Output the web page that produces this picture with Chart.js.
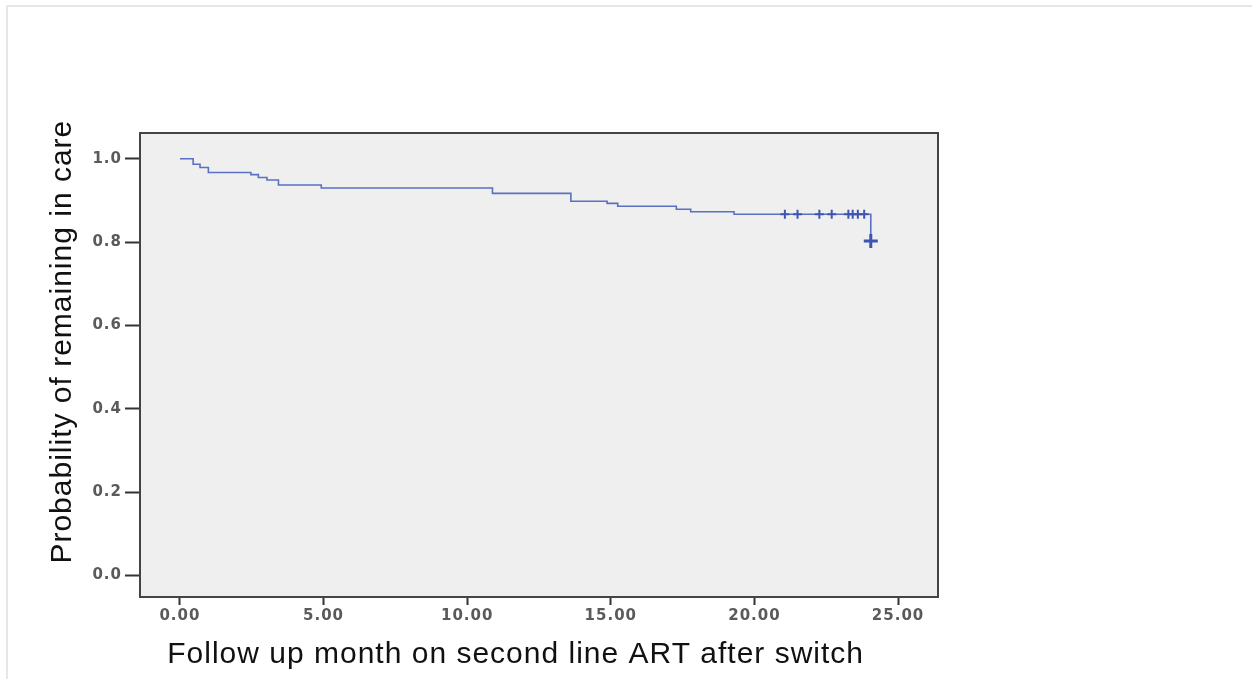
<!DOCTYPE html>
<html>
<head>
<meta charset="utf-8">
<script src="https://cdn.jsdelivr.net/npm/chart.js@4.4.1/dist/chart.umd.min.js"></script>
<style>
  html, body { margin: 0; padding: 0; background: #ffffff; }
  #wrap { position: relative; width: 1252px; height: 679px; }
  #frame { position: absolute; left: 6px; top: 5px; right: 0; bottom: 0;
           border-top: 2px solid #e6e6e6; border-left: 2px solid #e6e6e6; pointer-events: none; }
  canvas { position: absolute; left: 0; top: 0; }
</style>
</head>
<body>
<div id="wrap">
  <canvas id="c" width="1252" height="679"></canvas>
  <div id="frame"></div>
</div>
<script>
// Kaplan-Meier step curve (time in months, survival probability)
const eventTimes = [0, 0.46, 0.70, 0.99, 2.47, 2.73, 3.03, 3.43, 4.92, 10.88, 13.61, 14.87, 15.24, 17.28, 17.78, 19.29, 24.05];
const survivalProb = [1.0, 0.987, 0.979, 0.967, 0.962, 0.955, 0.949, 0.937, 0.930, 0.917, 0.898, 0.893, 0.886, 0.879, 0.873, 0.867, 0.803];
// Censored observations
const censorTimes = [21.06, 21.50, 22.26, 22.69, 23.27, 23.42, 23.60, 23.82];
const censorProb = [0.867, 0.867, 0.867, 0.867, 0.867, 0.867, 0.867, 0.867];
const finalCensorTimes = [24.05];
const finalCensorProb = [0.803];
// Axis ticks
const xTicks = [0, 5, 10, 15, 20, 25];
const yTicks = [0, 0.2, 0.4, 0.6, 0.8, 1.0];

const xTitle = 'Follow up month on second line ART after switch';
const yTitle = 'Probability of remaining in care';
const pad = n => '\u00A0'.repeat(n);

const boxPlugin = {
  id: 'box',
  beforeLayout(chart) { chart.ctx.letterSpacing = '1px'; },
  beforeDraw(chart) {
    const {ctx, chartArea: a} = chart;
    ctx.letterSpacing = '1px';
    ctx.save();
    ctx.fillStyle = '#efefef';
    ctx.fillRect(a.left, a.top, a.right - a.left, a.bottom - a.top);
    ctx.restore();
  },
  afterDraw(chart) {
    const {ctx, chartArea: a} = chart;
    ctx.save();
    ctx.strokeStyle = '#444444';
    ctx.lineWidth = 2;
    ctx.strokeRect(a.left, a.top, a.right - a.left, a.bottom - a.top);
    ctx.restore();
  }
};

const tickFont = { family: 'DejaVu Sans, Verdana, sans-serif', size: 15, weight: 'bold' };
const titleFont = { family: 'Liberation Sans, Arial, sans-serif', size: 30 };

new Chart(document.getElementById('c'), {
  type: 'scatter',
  data: {
    datasets: [
      {
        type: 'line',
        data: eventTimes.map((t, i) => ({ x: t, y: survivalProb[i] })),
        stepped: 'before',
        borderColor: '#5a70c2',
        borderWidth: 1.6,
        pointRadius: 0,
        fill: false,
        order: 2
      },
      {
        data: censorTimes.map((t, i) => ({ x: t, y: censorProb[i] })),
        pointStyle: 'cross',
        pointRadius: 4.5,
        borderColor: '#3d55b0',
        borderWidth: 2,
        backgroundColor: '#3d55b0',
        order: 1
      },
      {
        data: finalCensorTimes.map((t, i) => ({ x: t, y: finalCensorProb[i] })),
        pointStyle: 'cross',
        pointRadius: 7,
        borderColor: '#3d55b0',
        borderWidth: 3,
        backgroundColor: '#3d55b0',
        order: 1
      }
    ]
  },
  options: {
    responsive: false,
    animation: false,
    events: [],
    layout: { padding: { left: 0, right: 314, top: 133, bottom: 0 } },
    plugins: { legend: { display: false }, tooltip: { enabled: false } },
    scales: {
      x: {
        type: 'linear',
        min: -1.39,
        max: 26.39,
        afterBuildTicks: s => { s.ticks = xTicks.map(v => ({ value: v })); },
        afterFit: s => { s.height = 82; },
        ticks: {
          font: tickFont,
          color: '#5a5a5a',
          padding: 2,
          maxRotation: 0,
          callback: v => Number(v).toFixed(2)
        },
        grid: { drawOnChartArea: false, drawTicks: true, tickLength: 8, tickColor: '#333333', tickWidth: 2 },
        border: { display: false },
        title: { display: true, text: xTitle + pad(5), font: titleFont, color: '#111111', padding: { top: 0, bottom: 6 } }
      },
      y: {
        type: 'linear',
        min: -0.052,
        max: 1.062,
        afterBuildTicks: s => { s.ticks = yTicks.map(v => ({ value: v })); },
        afterFit: s => { s.width = 140; },
        ticks: {
          font: tickFont,
          color: '#5a5a5a',
          padding: 3,
          callback: v => Number(v).toFixed(1)
        },
        grid: { drawOnChartArea: false, drawTicks: true, tickLength: 15, tickColor: '#333333', tickWidth: 2 },
        border: { display: false },
        title: { display: true, text: pad(5) + yTitle, font: titleFont, color: '#111111', padding: { top: 45, bottom: 0 } }
      }
    }
  },
  plugins: [boxPlugin]
});
</script>
</body>
</html>
